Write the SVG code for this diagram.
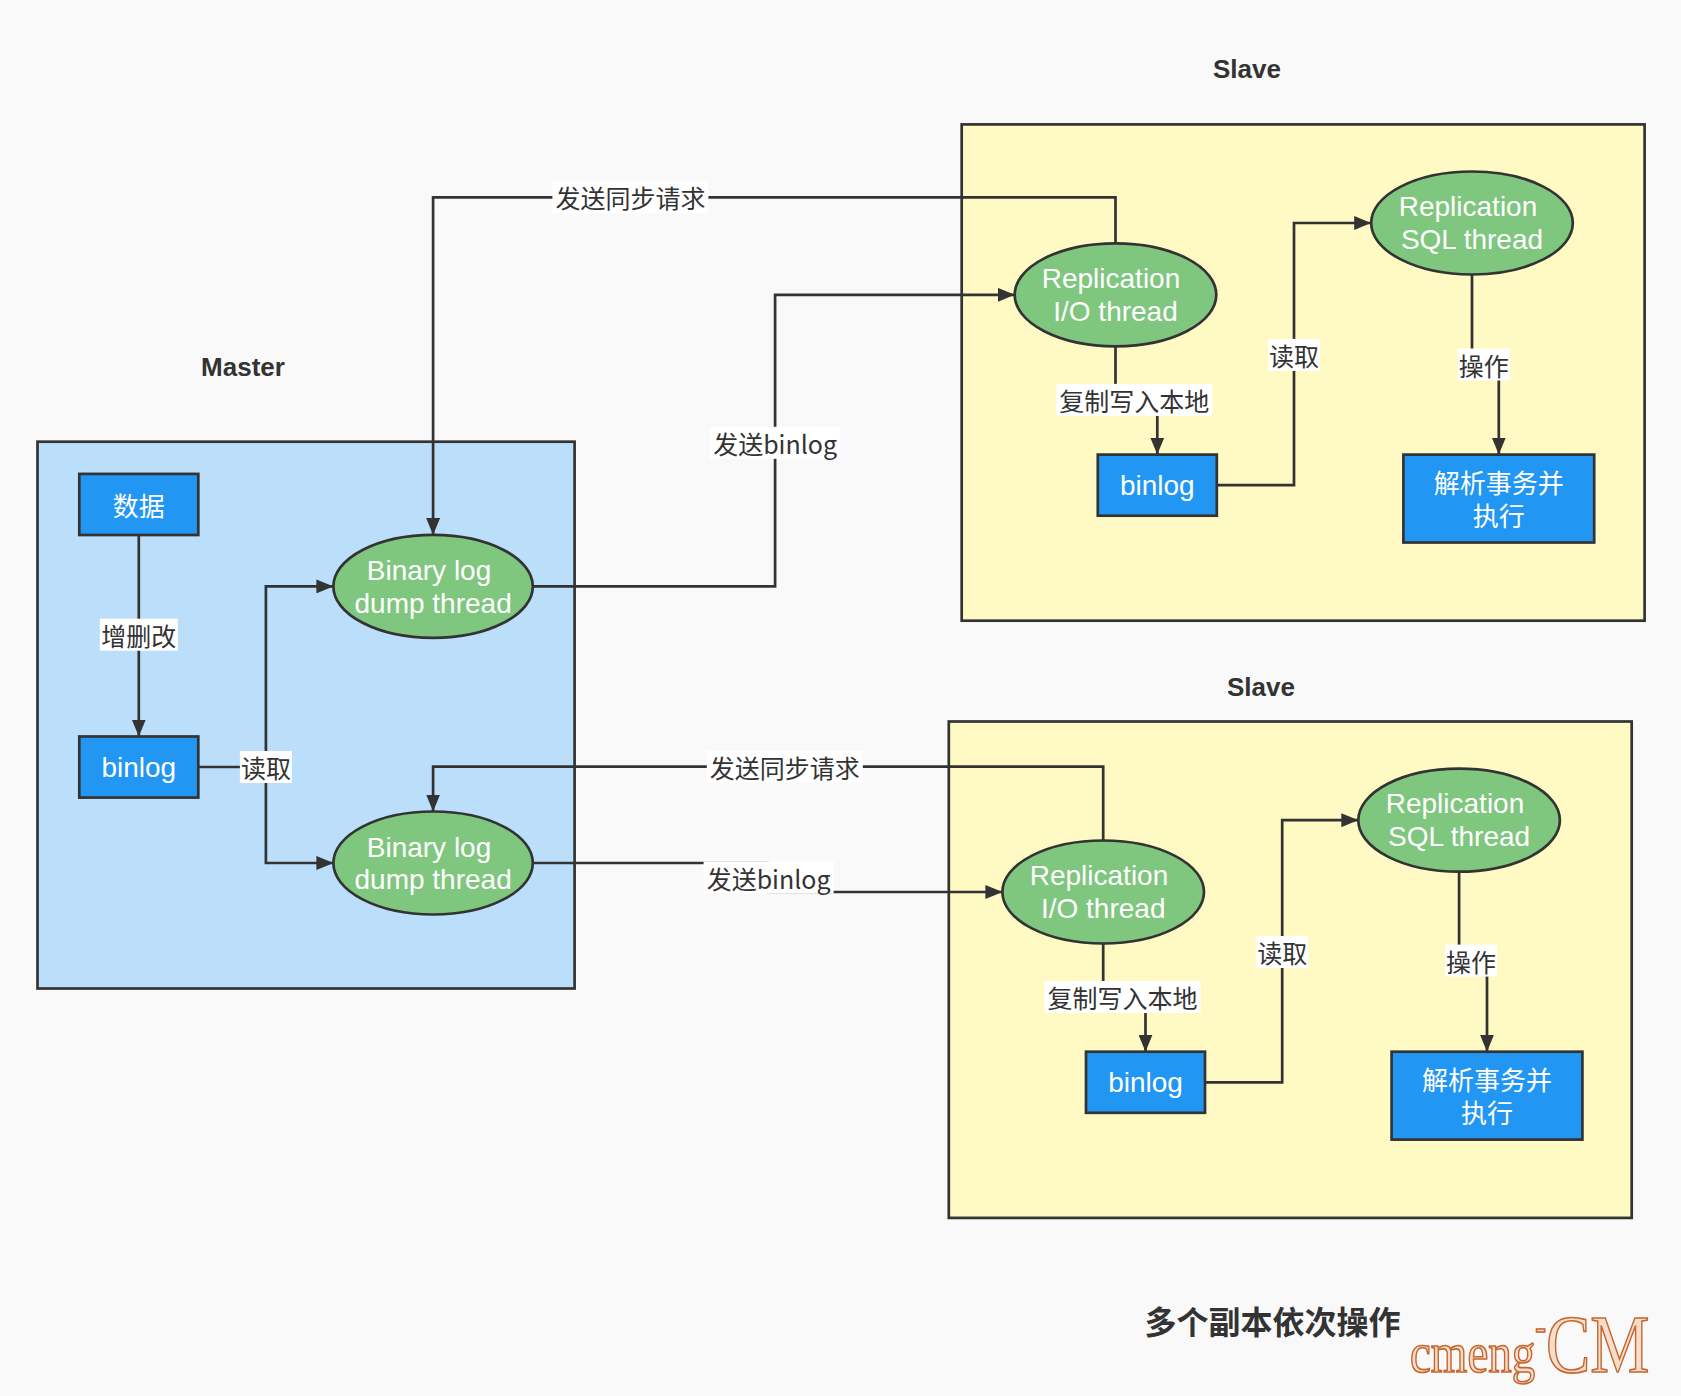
<svg xmlns="http://www.w3.org/2000/svg" width="1681" height="1396" viewBox="0 0 1681 1396">
<style>
.bg{fill:#f9f9f9}
.cont{stroke:#333;stroke-width:2.7}
.master{fill:#bbdefb}
.slave{fill:#fff9c4}
.box{fill:#2196f3;stroke:#333;stroke-width:2.7}
.ell{fill:#7fc67f;stroke:#333;stroke-width:2.7}
.nt{font-family:"Liberation Sans","Noto Sans CJK SC",sans-serif;font-size:28px;fill:#fff;text-anchor:middle;dominant-baseline:central}
.ntc{font-family:"Liberation Sans","Noto Sans CJK SC",sans-serif;font-size:26px;fill:#fff;text-anchor:middle;dominant-baseline:central}
.title{font-family:"Liberation Sans","Noto Sans CJK SC",sans-serif;font-size:26px;font-weight:bold;fill:#333;text-anchor:middle;dominant-baseline:central}
.conn{fill:none;stroke:#333;stroke-width:2.7}
.lb{fill:#fff}
.lt{font-family:"Noto Sans CJK SC",sans-serif;font-size:25px;fill:#333;text-anchor:middle;dominant-baseline:central}
.wm{font-family:"Liberation Serif",serif;fill:#f6dcca;stroke:#c4662e;stroke-width:1.7}
</style>
<defs>
<marker id="arr" markerUnits="userSpaceOnUse" markerWidth="17" markerHeight="14" refX="17" refY="7" orient="auto">
<path d="M0,0 L17,7 L0,14 z" fill="#333"/>
</marker>
</defs>
<rect class="bg" x="0" y="0" width="1681" height="1396"/>

<g id="master">
<text class="title" x="243" y="367">Master</text>
<rect class="cont master" x="37.5" y="441.7" width="537.1" height="546.8"/>
</g>
<g id="slave1">
<text class="title" x="1247" y="69">Slave</text>
<rect class="cont slave" x="961.7" y="124.4" width="682.9" height="496.3"/>
</g>
<g id="slave2">
<text class="title" x="1261" y="687">Slave</text>
<rect class="cont slave" x="948.8" y="721.5" width="682.9" height="496.4"/>
</g>

<g id="connectors">
<path class="conn" d="M138.8,535 V736.5" marker-end="url(#arr)"/>
<path class="conn" d="M198.3,767 H265.9 V586.4 H333.4" marker-end="url(#arr)"/>
<path class="conn" d="M265.9,767 V863 H333.4" marker-end="url(#arr)"/>
<path class="conn" d="M1115.5,243.3 V197.3 H433.1 V534.9" marker-end="url(#arr)"/>
<path class="conn" d="M532.8,586.4 H775.1 V294.8 H1014.7" marker-end="url(#arr)"/>
<path class="conn" d="M1115.5,346.3 V399.9 H1157.3 V454.6" marker-end="url(#arr)"/>
<path class="conn" d="M1216.8,485.1 H1294 V223 H1371.2" marker-end="url(#arr)"/>
<path class="conn" d="M1472,274.5 V364.5 H1498.8 V454.6" marker-end="url(#arr)"/>
<path class="conn" d="M1103.2,840.5 V766.6 H433.1 V811.5" marker-end="url(#arr)"/>
<path class="conn" d="M532.8,863 H767.6 V892 H1002.4" marker-end="url(#arr)"/>
<path class="conn" d="M1103.2,943.5 V997 H1145.5 V1051.7" marker-end="url(#arr)"/>
<path class="conn" d="M1205,1082.3 H1282.2 V820.2 H1358.3" marker-end="url(#arr)"/>
<path class="conn" d="M1459.1,871.7 V960.6 H1487 V1051.7" marker-end="url(#arr)"/>

<rect class="lb" x="99.8" y="618.7" width="78" height="32"/>
<text class="lt" x="138.8" y="634.7">增删改</text>
<rect class="lb" x="239.9" y="751" width="52" height="32"/>
<text class="lt" x="265.9" y="767">读取</text>
<rect class="lb" x="552.4" y="181.3" width="156" height="32"/>
<text class="lt" x="630.4" y="197.3">发送同步请求</text>
<rect class="lb" x="710" y="426.8" width="130" height="32"/>
<text class="lt" x="775.1" y="442.8">发送binlog</text>
<rect class="lb" x="1056.3" y="383.9" width="156" height="32"/>
<text class="lt" x="1134.3" y="399.9">复制写入本地</text>
<rect class="lb" x="1268" y="338.9" width="52" height="32"/>
<text class="lt" x="1294" y="354.9">读取</text>
<rect class="lb" x="1457.8" y="348.5" width="52" height="32"/>
<text class="lt" x="1483.8" y="364.5">操作</text>
<rect class="lb" x="706.8" y="750.6" width="156" height="32"/>
<text class="lt" x="784.8" y="766.6">发送同步请求</text>
<rect class="lb" x="703.6" y="861.5" width="130" height="32"/>
<text class="lt" x="768.6" y="877.5">发送binlog</text>
<rect class="lb" x="1044.5" y="981" width="156" height="32"/>
<text class="lt" x="1122.5" y="997">复制写入本地</text>
<rect class="lb" x="1256.2" y="936" width="52" height="32"/>
<text class="lt" x="1282.2" y="952">读取</text>
<rect class="lb" x="1444.9" y="944.6" width="52" height="32"/>
<text class="lt" x="1470.9" y="960.6">操作</text>
</g>

<g id="m-data">
<rect class="box" x="79.3" y="473.9" width="119" height="61.1"/>
<text class="ntc" x="138.8" y="506.5">数据</text>
</g>
<g id="m-binlog">
<rect class="box" x="79.3" y="736.5" width="119" height="61.1"/>
<text class="nt" x="138.8" y="767">binlog</text>
</g>
<g id="m-dump1">
<ellipse class="ell" cx="433.1" cy="586.4" rx="99.7" ry="51.5"/>
<text class="nt" x="429" y="570.5">Binary log</text>
<text class="nt" x="433.1" y="603">dump thread</text>
</g>
<g id="m-dump2">
<ellipse class="ell" cx="433.1" cy="863" rx="99.7" ry="51.5"/>
<text class="nt" x="429" y="847">Binary log</text>
<text class="nt" x="433.1" y="879.5">dump thread</text>
</g>

<g id="s1-io">
<ellipse class="ell" cx="1115.5" cy="294.8" rx="100.8" ry="51.5"/>
<text class="nt" x="1111" y="278.5">Replication</text>
<text class="nt" x="1115.5" y="311.5">I/O thread</text>
</g>
<g id="s1-sql">
<ellipse class="ell" cx="1472" cy="223" rx="100.8" ry="51.5"/>
<text class="nt" x="1468" y="206.5">Replication</text>
<text class="nt" x="1472" y="239.5">SQL thread</text>
</g>
<g id="s1-binlog">
<rect class="box" x="1097.8" y="454.6" width="119" height="61.1"/>
<text class="nt" x="1157.3" y="485.1">binlog</text>
</g>
<g id="s1-exec">
<rect class="box" x="1403.4" y="454.6" width="190.8" height="87.9"/>
<text class="ntc" x="1498.8" y="484">解析事务并</text>
<text class="ntc" x="1498.8" y="517">执行</text>
</g>

<g id="s2-io">
<ellipse class="ell" cx="1103.2" cy="892" rx="100.8" ry="51.5"/>
<text class="nt" x="1099" y="875.5">Replication</text>
<text class="nt" x="1103.2" y="908.5">I/O thread</text>
</g>
<g id="s2-sql">
<ellipse class="ell" cx="1459.1" cy="820.2" rx="100.8" ry="51.5"/>
<text class="nt" x="1455" y="803.5">Replication</text>
<text class="nt" x="1459.1" y="836.5">SQL thread</text>
</g>
<g id="s2-binlog">
<rect class="box" x="1086" y="1051.7" width="119" height="61.1"/>
<text class="nt" x="1145.5" y="1082.3">binlog</text>
</g>
<g id="s2-exec">
<rect class="box" x="1391.6" y="1051.7" width="190.8" height="87.9"/>
<text class="ntc" x="1487" y="1081">解析事务并</text>
<text class="ntc" x="1487" y="1114">执行</text>
</g>

<g id="caption">
<text class="title" x="1272.6" y="1319.8" style="font-family:'Noto Sans CJK SC',sans-serif;font-size:32px">多个副本依次操作</text>
</g>
<g id="watermark" transform="translate(1410,1372) scale(0.81,1)">
<text class="wm" x="0" y="0"><tspan font-size="58">cmeng</tspan><tspan font-size="40" dy="-32">-</tspan><tspan font-size="82" dy="32">CM</tspan></text>
</g>
</svg>
